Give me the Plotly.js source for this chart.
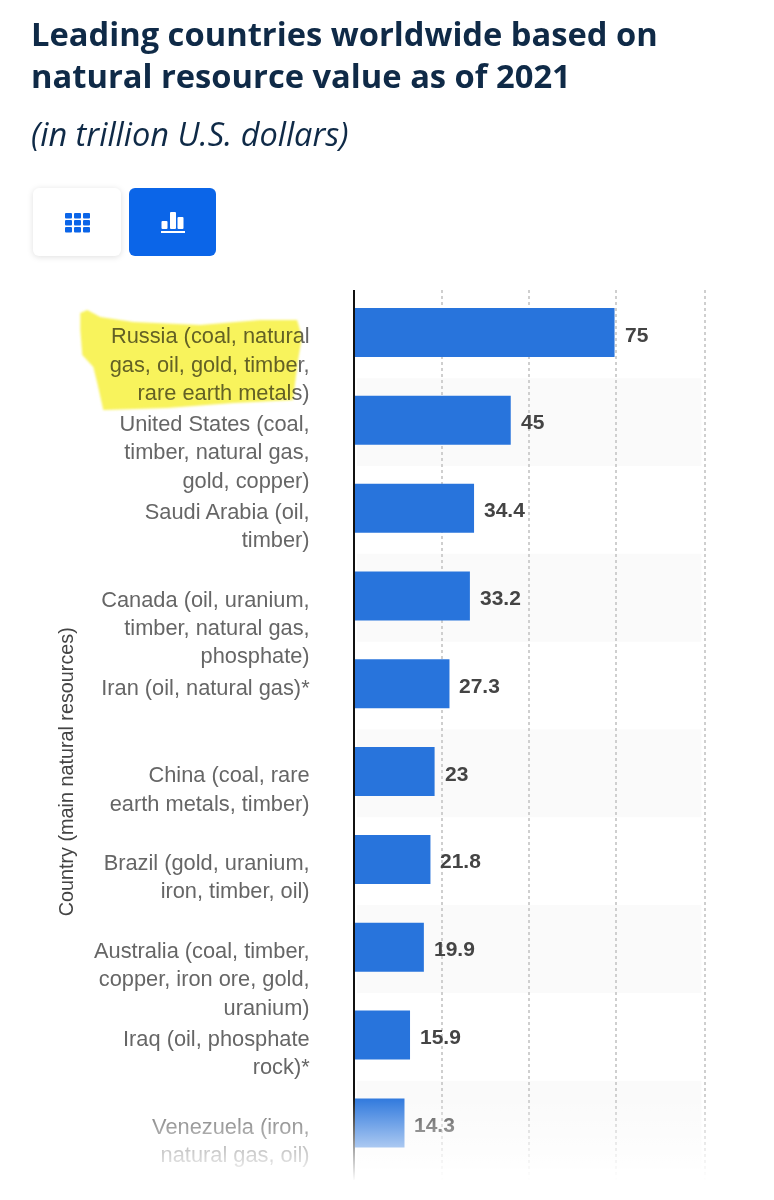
<!DOCTYPE html>
<html><head><meta charset="utf-8">
<script src="https://cdn.plot.ly/plotly-3.0.1.min.js"></script>
<style>
html,body{margin:0;padding:0;background:#fff;width:774px;height:1200px;overflow:hidden}
#chart{position:absolute;left:0;top:0;width:774px;height:1200px}
.btn{position:absolute;top:188px;height:68px;border-radius:6px;display:flex;align-items:center;justify-content:center}
#fade{position:absolute;left:0;top:1095px;width:774px;height:105px;pointer-events:none;
background:linear-gradient(to bottom,rgba(255,255,255,0) 0,rgba(255,255,255,1) 82%)}
.layer-above .shapelayer path{mix-blend-mode:multiply;filter:blur(1.2px)}
</style></head><body>
<div id="chart"></div>
<div class="btn" style="left:33px;width:88px;background:#fff;box-shadow:0 1px 6px rgba(0,0,0,.13)">
<svg width="26" height="22" viewBox="0 0 26 22" fill="#0b65e8" style="margin:2px 0 0 1px"><rect x="0" y="1" width="7" height="5.4" rx="1"/><rect x="9" y="1" width="7" height="5.4" rx="1"/><rect x="18" y="1" width="7" height="5.4" rx="1"/><rect x="0" y="8" width="7" height="5.4" rx="1"/><rect x="9" y="8" width="7" height="5.4" rx="1"/><rect x="18" y="8" width="7" height="5.4" rx="1"/><rect x="0" y="15" width="7" height="5.4" rx="1"/><rect x="9" y="15" width="7" height="5.4" rx="1"/><rect x="18" y="15" width="7" height="5.4" rx="1"/></svg></div>
<div class="btn" style="left:129px;width:87px;background:#0b65e8">
<svg width="26" height="26" viewBox="0 0 26 26" fill="#fff"><rect x="1.5" y="12" width="6" height="8" rx="1"/><rect x="10" y="3" width="6" height="17" rx="1"/><rect x="17.5" y="8" width="6" height="12" rx="1"/><rect x="1" y="22" width="24" height="2"/></svg></div>
<div id="fade"></div>
<script>
const categories = [
 ["Russia (coal, natural","gas, oil, gold, timber,","rare earth metals)"],
 ["United States (coal,","timber, natural gas,","gold, copper)"],
 ["Saudi Arabia (oil,","timber)"],
 ["Canada (oil, uranium,","timber, natural gas,","phosphate)"],
 ["Iran (oil, natural gas)*"],
 ["China (coal, rare","earth metals, timber)"],
 ["Brazil (gold, uranium,","iron, timber, oil)"],
 ["Australia (coal, timber,","copper, iron ore, gold,","uranium)"],
 ["Iraq (oil, phosphate","rock)*"],
 ["Venezuela (iron,","natural gas, oil)"]
];
const values = [75,45,34.4,33.2,27.3,23,21.8,19.9,15.9,14.3];
const gridTicks = [25,50.2,75.3,101];
const titleText = "<b>Leading countries worldwide based on<br>natural resource value as of 2021</b>";
const subtitleText = "<i>(in trillion U.S. dollars)</i>";
const yTitle = "Country (main natural resources)";

const idx = categories.map((_,i)=>i);
// labels start at the bar centre: blank lines above keep the first line on the tick
const ticktext = categories.map(l=>Array(l.length-1).fill("\u00a0").concat(l).join("<br>"));
const W=774,H=1200,L=355,R=708.4,T=290,B=1180;
const px=x=>(x-L)/(R-L), py=y=>1-(y-T)/(B-T);

const shapes = idx.filter(i=>i%2==1).map(i=>({type:'rect',layer:'below',xref:'x',yref:'y',x0:0.6,x1:100.1,y0:i-0.48,y1:i+0.52,fillcolor:'#fafafa',line:{width:0}}));
const hl=[[80,313],[87,310],[100,317],[133,322],[200,325],[260,320],[297,320],[302,337],[298,360],[295,383],[293,400],[233,403],[167,408],[103,410],[97,383],[93,367],[82,355],[80,330]];
shapes.push({type:'path',layer:'above',xref:'paper',yref:'paper',
 path:'M'+hl.map(p=>px(p[0]).toFixed(4)+','+py(p[1]).toFixed(4)).join('L')+'Z',fillcolor:'#f8f35c',line:{width:0}});

const annotations = values.map((v,i)=>({x:v,y:i,xref:'x',yref:'y',text:'<b>'+v+'</b>',showarrow:false,xanchor:'left',xshift:8,yshift:-1.5,font:{family:'Liberation Sans',size:21,color:'#444'}}));
annotations.push({xref:'paper',yref:'paper',x:px(29),y:py(133),xanchor:'left',yanchor:'middle',showarrow:false,text:subtitleText,font:{family:'Open Sans',size:32.5,color:'#0f2a47'}});
annotations.push({xref:'paper',yref:'paper',x:px(66),y:py(772),xanchor:'center',yanchor:'middle',showarrow:false,textangle:-90,text:yTitle,font:{family:'Liberation Sans',size:19.8,color:'#444'}});

Plotly.newPlot('chart',[{type:'bar',orientation:'h',x:values,y:idx,width:0.558,marker:{color:'#2874dc'},hoverinfo:'none'}],{
 width:W,height:H,paper_bgcolor:'#fff',plot_bgcolor:'rgba(0,0,0,0)',showlegend:false,
 margin:{l:L,r:W-R,t:T,b:H-B,pad:0},
 title:{text:titleText,x:31/W,xanchor:'left',y:1-45.5/H,yanchor:'middle',font:{family:'Open Sans',size:32.7,color:'#0f2a47'}},
 xaxis:{range:[0,102],tickvals:gridTicks,showticklabels:false,showgrid:true,gridcolor:'#cfcfcf',griddash:'dot',gridwidth:2,zeroline:false,ticks:''},
 yaxis:{range:[9.65,-0.484],tickmode:'array',tickvals:idx.map(i=>i+0.035),ticktext:ticktext,ticks:'',ticklabelstandoff:39,showgrid:false,zeroline:false,showline:true,linecolor:'#111',linewidth:2,automargin:false,
  tickfont:{family:'Liberation Sans',size:21.8,color:'#666'}},
 shapes,annotations
},{staticPlot:true,displayModeBar:false});
</script></body></html>
